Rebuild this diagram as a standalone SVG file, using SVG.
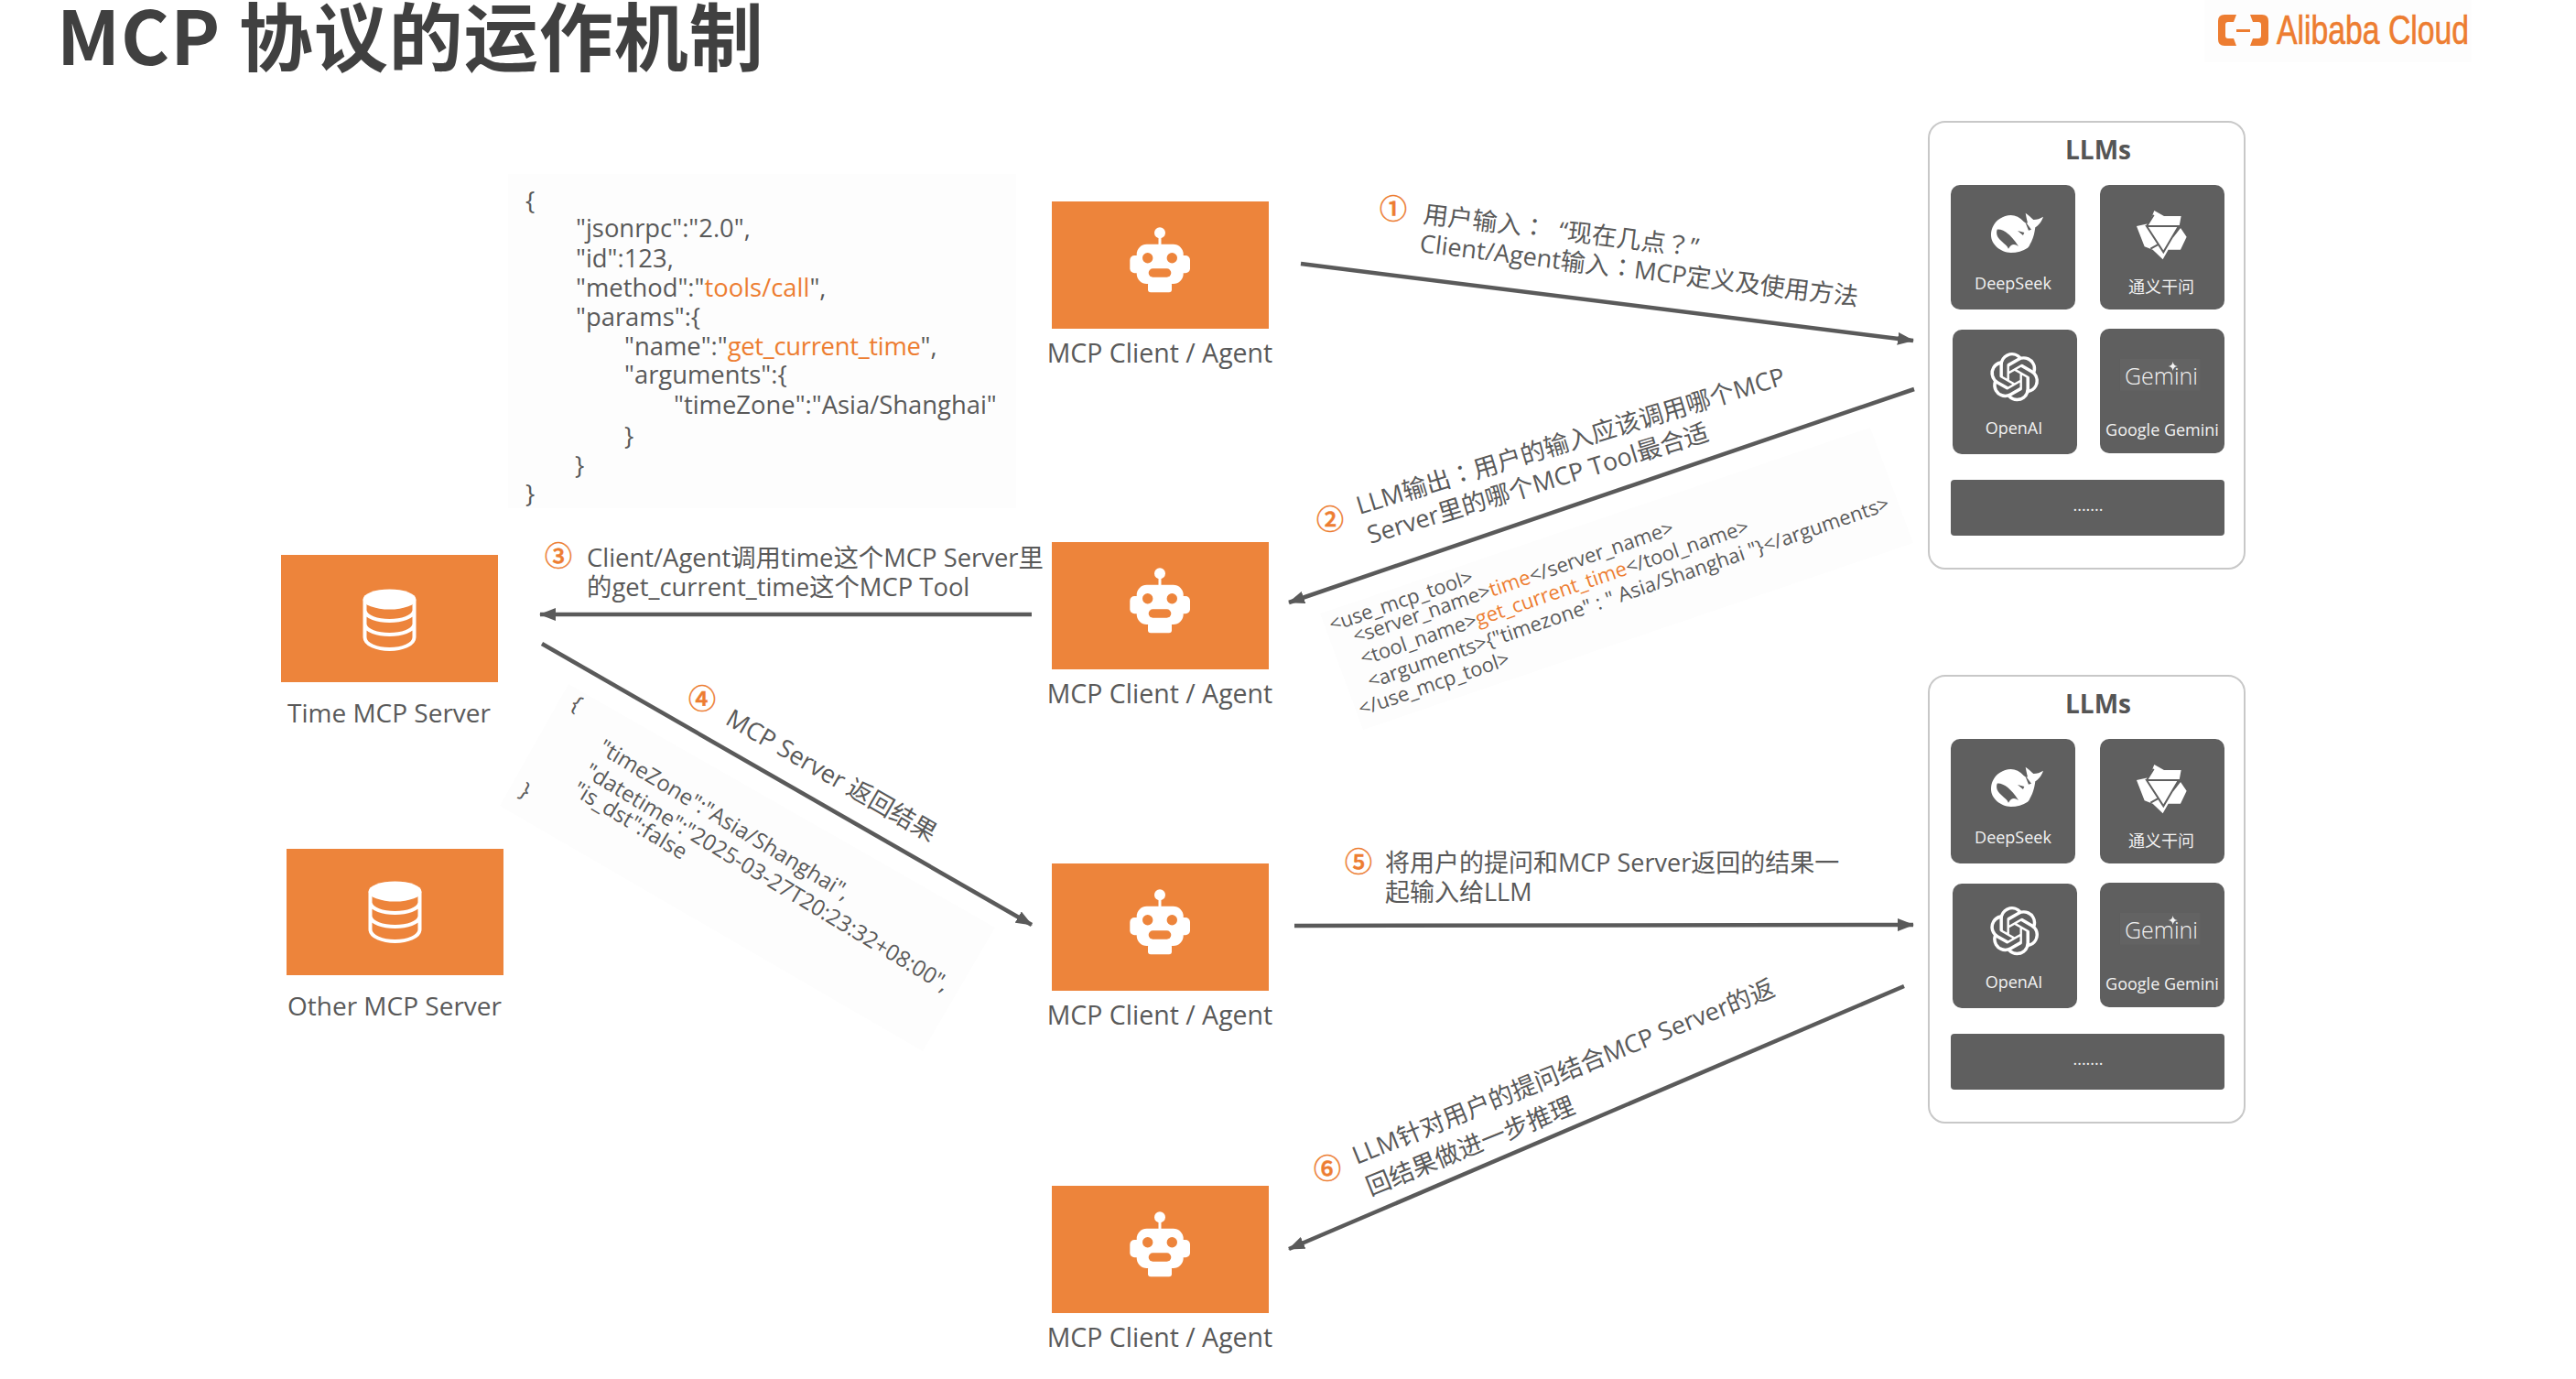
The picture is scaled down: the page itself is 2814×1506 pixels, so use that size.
<svg xmlns="http://www.w3.org/2000/svg" xmlns:xlink="http://www.w3.org/1999/xlink" width="2814" height="1506" viewBox="0 0 2814 1506">
<style>
text{font-family:"Open Sans","Noto Sans CJK SC",sans-serif;fill:#595959}
.lbl{font-size:27px}
.nl{font-size:28.5px;text-anchor:middle}
.sl{font-size:28px;text-anchor:middle}
.or{fill:#ed7d31}
.p{font-family:"Noto Sans CJK TC",sans-serif}
.code{font-size:27.4px}
.xml{font-size:22px}
.res{font-size:24px}
.num{font-family:"Noto Sans CJK SC",sans-serif;font-size:30px;font-weight:500;fill:#ed7d31;stroke:#ed7d31;stroke-width:.5;text-anchor:middle}
.box{fill:#ed843b}
.panel{fill:#fdfdfd}
.tile{fill:#5f5f5f}
.llm{fill:#fff;stroke:#c8c8c8;stroke-width:2}
.tt{font-size:18px;fill:#f2f2f2;text-anchor:middle}
.gem{font-size:25px;fill:#f2f2f2;text-anchor:middle;font-weight:300}
.ttl{font-size:28px;font-weight:700;text-anchor:middle;fill:#555}
.conn line{stroke:#5a5a5a;stroke-width:4.5;marker-end:url(#arr)}
</style>
<defs>
<marker id="arr" markerUnits="userSpaceOnUse" markerWidth="18" markerHeight="14" refX="17" refY="7" orient="auto"><path d="M0,0L18,7L0,14z" fill="#5a5a5a"/></marker>
<g id="robot">
<circle cx="118" cy="34.3" r="6" fill="#fff"/><rect x="116.5" y="36" width="3" height="14" fill="#fff"/>
<rect x="92.7" y="46.7" width="51" height="43.3" rx="11" fill="#fff"/>
<rect x="85.3" y="59" width="65.7" height="19.3" rx="5" fill="#fff"/>
<rect x="105" y="88" width="26" height="11.3" rx="3" fill="#fff"/>
<circle cx="104.7" cy="61.7" r="5.7" fill="#ed843b"/><circle cx="131.3" cy="61.7" r="5.7" fill="#ed843b"/>
<rect x="105.7" y="73.3" width="24.6" height="9.4" rx="4.7" fill="#ed843b"/>
</g>
<g id="db">
<ellipse cx="118.5" cy="45.5" rx="29" ry="11" fill="#fff"/>
<path d="M91.5,46V87C91.5,95 105,100 118.5,100S145.5,95 145.5,87V46M91.5,58C93,65 105,69 118.5,69S144,65 145.5,58M91.5,73C93,80 105,84 118.5,84S144,80 145.5,73" fill="none" stroke="#fff" stroke-width="4"/>
</g>
<g id="whale">
<path d="M290 385C300 360 325 346 350 345C365 345 380 352 392 366C398 370 402 372 405 370C402 360 400 348 398 338C408 345 416 352 424 360C435 360 447 356 456 350C450 368 440 378 430 385C428 400 425 420 412 442C410 447 408 450 405 452C390 462 370 468 350 468C315 466 285 440 285 410C285 400 287 392 290 385Z" fill="#fff"/>
<path d="M305 392C325 390 350 408 375 447C362 438 352 438 342 455C335 440 320 435 308 418C303 410 302 400 305 392Z" fill="#5f5f5f"/>
<path d="M372 396L394 402L390 411ZM395 362L417 392L408 395Z" fill="#5f5f5f"/>
</g>
<g id="qwen">
<path d="M820 330L852 348H908L902 381L926 416L906 458H866L848 490L815 458L788 448L762 381L803 372Z" fill="#fff"/>
<path d="M795 381H900L850 466ZM818 344L795 381M905 384L880 416M808 455L835 440" fill="none" stroke="#5f5f5f" stroke-width="6"/>
<path d="M818 390H880L848 440Z" fill="#fff"/>
</g>
<g id="tiles">
<rect class="tile" x="51" y="82" width="136" height="136" rx="10"/>
<rect class="tile" x="214" y="82" width="136" height="136" rx="10"/>
<rect class="tile" x="53" y="240" width="136" height="136" rx="10"/>
<rect class="tile" x="214" y="239" width="136" height="136" rx="10"/>
<rect class="tile" x="51" y="404" width="299" height="61" rx="4"/>
<g transform="scale(.3333)"><use href="#whale"/><use href="#qwen"/>
<path transform="translate(282 795) scale(6.67)" fill="#fff" d="M22.2819 9.8211a5.9847 5.9847 0 0 0-.5157-4.9108 6.0462 6.0462 0 0 0-6.5098-2.9A6.0651 6.0651 0 0 0 4.9807 4.1818a5.9847 5.9847 0 0 0-3.9977 2.9 6.0462 6.0462 0 0 0 .7427 7.0966 5.98 5.98 0 0 0 .511 4.9107 6.051 6.051 0 0 0 6.5146 2.9001A5.9847 5.9847 0 0 0 13.2599 24a6.0557 6.0557 0 0 0 5.7718-4.2058 5.9894 5.9894 0 0 0 3.9977-2.9001 6.0557 6.0557 0 0 0-.7475-7.0729zm-9.022 12.6081a4.4755 4.4755 0 0 1-2.8764-1.0408l.1419-.0804 4.7783-2.7582a.7948.7948 0 0 0 .3927-.6813v-6.7369l2.02 1.1686a.071.071 0 0 1 .038.052v5.5826a4.504 4.504 0 0 1-4.4945 4.4944zm-9.6607-4.1254a4.4708 4.4708 0 0 1-.5346-3.0137l.142.0852 4.783 2.7582a.7712.7712 0 0 0 .7806 0l5.8428-3.3685v2.3324a.0804.0804 0 0 1-.0332.0615L9.74 19.9502a4.4992 4.4992 0 0 1-6.1408-1.6464zM2.3408 7.8956a4.485 4.485 0 0 1 2.3655-1.9728V11.6a.7664.7664 0 0 0 .3879.6765l5.8144 3.3543-2.0201 1.1685a.0757.0757 0 0 1-.071 0l-4.8303-2.7865A4.504 4.504 0 0 1 2.3408 7.872zm16.5963 3.8558L13.1038 8.364 15.1192 7.2a.0757.0757 0 0 1 .071 0l4.8303 2.7913a4.4944 4.4944 0 0 1-.6765 8.1042v-5.6772a.79.79 0 0 0-.407-.667zm2.0107-3.0231l-.142-.0852-4.7735-2.7818a.7759.7759 0 0 0-.7854 0L9.409 9.2297V6.8974a.0662.0662 0 0 1 .0284-.0615l4.8303-2.7866a4.4992 4.4992 0 0 1 6.6802 4.66zM8.3065 12.863l-2.02-1.1638a.0804.0804 0 0 1-.038-.0567V6.0742a4.4992 4.4992 0 0 1 7.3757-3.4537l-.142.0805L8.704 5.459a.7948.7948 0 0 0-.3927.6813zm1.0976-2.3654l2.602-1.4998 2.6069 1.4998v2.9994l-2.5974 1.4997-2.6067-1.4997Z"/>
<rect x="708" y="815" width="262" height="105" fill="#636363"/>
<path d="M881 825Q883 838 896 840Q883 842 881 855Q879 842 866 840Q879 838 881 825Z" fill="#f2f2f2"/>
</g>
</g>
</defs>
<rect width="2814" height="1506" fill="#fff"/>
<text x="62" y="71" font-size="81" font-weight="700" letter-spacing="1" style="fill:#404040;font-family:'Noto Sans CJK SC','Open Sans',sans-serif">MCP 协议的运作机制</text>

<g id="logo">
<rect x="2408" y="0" width="292" height="68" fill="#fdfdfd"/>
<path d="M2443,16H2430Q2423,16 2423,23V43Q2423,50 2430,50H2443L2440,42H2434Q2431,42 2431,39V27Q2431,24 2434,24H2440ZM2458,16H2471Q2478,16 2478,23V43Q2478,50 2471,50H2458L2461,42H2467Q2470,42 2470,39V27Q2470,24 2467,24H2461ZM2443,32H2458V35H2443Z" fill="#ed7d31"/>
<text x="2487" y="48" font-size="45" textLength="210" lengthAdjust="spacingAndGlyphs" style="fill:#ed7d31;stroke:#ed7d31;stroke-width:.7;font-family:'Liberation Sans',sans-serif">Alibaba Cloud</text>
</g>

<polygon class="panel" points="555,190 1110,190 1110,555 555,555"/>
<polygon class="panel" points="1442,670 2043,467 2090,593 1489,797"/>
<polygon class="panel" points="621,747 1087,1013 1008,1148 546,880"/>

<g id="connectors" class="conn">
<line x1="1421" y1="288" x2="2090" y2="372"/>
<line x1="2091" y1="425" x2="1408" y2="658"/>
<line x1="1127" y1="671" x2="590" y2="671"/>
<line x1="592" y1="703" x2="1127" y2="1010"/>
<line x1="1414" y1="1011" x2="2090" y2="1010"/>
<line x1="2080" y1="1077" x2="1408" y2="1364"/>
</g>

<g id="agent1"><rect class="box" x="1149" y="220" width="237" height="139"/><use href="#robot" x="1149" y="220"/><text class="nl" x="1267" y="396">MCP Client / Agent</text></g>
<g id="agent2"><rect class="box" x="1149" y="592" width="237" height="139"/><use href="#robot" x="1149" y="592"/><text class="nl" x="1267" y="768">MCP Client / Agent</text></g>
<g id="agent3"><rect class="box" x="1149" y="943" width="237" height="139"/><use href="#robot" x="1149" y="943"/><text class="nl" x="1267" y="1119">MCP Client / Agent</text></g>
<g id="agent4"><rect class="box" x="1149" y="1295" width="237" height="139"/><use href="#robot" x="1149" y="1295"/><text class="nl" x="1267" y="1471">MCP Client / Agent</text></g>

<g id="time-server"><rect class="box" x="307" y="606" width="237" height="139"/><use href="#db" x="307" y="609"/><text class="sl" x="425" y="789">Time MCP Server</text></g>
<g id="other-server"><rect class="box" x="313" y="927" width="237" height="138"/><use href="#db" x="313" y="928"/><text class="sl" x="431" y="1109">Other MCP Server</text></g>

<g id="llms1">
<rect class="llm" x="2107" y="133" width="345" height="488" rx="18"/>
<text class="ttl" x="2292" y="174">LLMs</text>
<use href="#tiles" x="2080" y="120"/>
<text class="tt" x="2199" y="316">DeepSeek</text><text class="tt" x="2361" y="320">通义干问</text><text class="tt" x="2200" y="474">OpenAI</text><text class="tt" x="2362" y="476">Google Gemini</text>
<text class="gem" x="2361" y="420">Gemini</text>
<text class="tt" x="2281" y="558">.......</text>
</g>
<g id="llms2">
<rect class="llm" x="2107" y="738" width="345" height="488" rx="18"/>
<text class="ttl" x="2292" y="779">LLMs</text>
<use href="#tiles" x="2080" y="725"/>
<text class="tt" x="2199" y="921">DeepSeek</text><text class="tt" x="2361" y="925">通义干问</text><text class="tt" x="2200" y="1079">OpenAI</text><text class="tt" x="2362" y="1081">Google Gemini</text>
<text class="gem" x="2361" y="1025">Gemini</text>
<text class="tt" x="2281" y="1163">.......</text>
</g>

<g id="label1"><text class="num" x="1522" y="239">①</text>
<text class="lbl" transform="translate(1554,243) rotate(7)">用户输入<tspan class="p">：</tspan>&#160;&#160;“现在几点<tspan class="p">？</tspan>”</text>
<text class="lbl" transform="translate(1550,275) rotate(7)">Client/Agent输入<tspan class="p">：</tspan>MCP定义及使用方法</text></g>
<g id="label2"><text class="num" x="1453" y="578">②</text>
<text class="lbl" transform="translate(1485,562) rotate(-17)">LLM输出<tspan class="p">：</tspan>用户的输入应该调用哪个MCP</text>
<text class="lbl" transform="translate(1497,594) rotate(-17)">Server里的哪个MCP Tool最合适</text></g>
<g id="label3"><text class="num" x="610" y="618">③</text>
<text x="641" y="619" font-size="27.4">Client/Agent调用time这个MCP Server里</text>
<text x="641" y="651" font-size="27.4">的get_current_time这个MCP Tool</text></g>
<g id="label4"><text class="num" x="767" y="774">④</text>
<text class="lbl" transform="translate(791,790) rotate(30)">MCP Server 返回结果</text></g>
<g id="label5"><text class="num" x="1484" y="952">⑤</text>
<text class="lbl" x="1513" y="952">将用户的提问和MCP Server返回的结果一</text>
<text class="lbl" x="1513" y="984">起输入给LLM</text></g>
<g id="label6"><text class="num" x="1450" y="1287">⑥</text>
<text class="lbl" transform="translate(1482,1272) rotate(-22)">LLM针对用户的提问结合MCP Server的返</text>
<text class="lbl" transform="translate(1497,1306) rotate(-22)">回结果做进一步推理</text></g>

<g id="json-request">
<text class="code" x="574" y="229">{</text>
<text class="code" x="629" y="259">"jsonrpc":"2.0",</text>
<text class="code" x="629" y="292">"id":123,</text>
<text class="code" x="629" y="324">"method":"<tspan class="or">tools/call</tspan>",</text>
<text class="code" x="629" y="356">"params":{</text>
<text class="code" x="682" y="388">"name":"<tspan class="or" letter-spacing="-.3">get_current_time</tspan>",</text>
<text class="code" x="682" y="419">"arguments":{</text>
<text class="code" x="736" y="452">"timeZone":"Asia/Shanghai"</text>
<text class="code" x="682" y="486">}</text>
<text class="code" x="628" y="518">}</text>
<text class="code" x="574" y="549">}</text>
</g>
<g id="xml-call">
<text class="xml" transform="translate(1455,690) rotate(-19)">&lt;use_mcp_tool&gt;</text>
<text class="xml" transform="translate(1481,703) rotate(-19)">&lt;server_name&gt;<tspan class="or">time</tspan>&lt;/server_name&gt;</text>
<text class="xml" transform="translate(1489,727) rotate(-19)">&lt;tool_name&gt;<tspan class="or">get_current_time</tspan>&lt;/tool_name&gt;</text>
<text class="xml" transform="translate(1497,752) rotate(-19)">&lt;arguments&gt;{"timezone" : " Asia/Shanghai "}&lt;/arguments&gt;</text>
<text class="xml" transform="translate(1487,782) rotate(-19)">&lt;/use_mcp_tool&gt;</text>
</g>
<g id="json-result">
<text class="res" transform="translate(622,773) rotate(31)">{</text>
<text class="res" transform="translate(652,821) rotate(31)">"timeZone":"Asia/Shanghai",</text>
<text class="res" transform="translate(637,847) rotate(31)">"datetime":"2025-03-27T20:23:32+08:00",</text>
<text class="res" transform="translate(624,867) rotate(31)">"is_dst":false</text>
<text class="res" transform="translate(566,868) rotate(31)">}</text>
</g>
</svg>
